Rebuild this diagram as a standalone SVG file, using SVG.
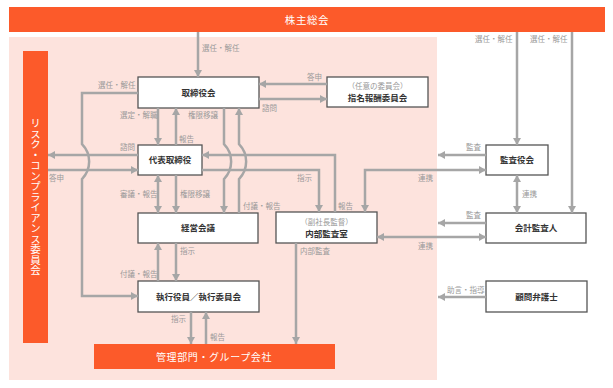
<svg xmlns="http://www.w3.org/2000/svg" width="613" height="388" viewBox="0 0 613 388">
<defs>
<style>
text{font-family:"Noto Sans CJK JP","Noto Sans CJK SC",sans-serif;}
.lbl{font-size:7.5px;fill:#9a9a9a;}
.bx{fill:#fff;stroke:#555;stroke-width:1.3;}
.bt{font-size:8.5px;font-weight:700;fill:#333;text-anchor:middle;}
.st{font-size:7.5px;fill:#999;text-anchor:middle;}
.bar{fill:#fc5a2a;}
.wt{fill:#fff;text-anchor:middle;}
.c{fill:none;stroke:#a6a6a6;stroke-width:2.5;marker-end:url(#ah);}
.b{marker-start:url(#ah);}
</style>
<marker id="ah" markerUnits="userSpaceOnUse" markerWidth="8" markerHeight="8" refX="7" refY="4" orient="auto-start-reverse">
<path d="M0,0 L7,4 L0,8 Z" fill="#a6a6a6"/>
</marker>
</defs>
<rect x="9" y="37" width="428" height="343" fill="#fde3dd"/>
<g id="shareholders"><rect class="bar" x="9" y="7" width="596" height="25"/><text class="wt" x="307" y="24" font-size="10.5" letter-spacing="0.6">株主総会</text></g>
<g id="risk"><rect class="bar" x="23" y="51" width="25" height="292"/><text class="wt" x="35.5" y="197" font-size="10.5" style="writing-mode:vertical-rl">リスク・コンプライアンス委員会</text></g>
<g id="mgmt"><rect class="bar" x="94" y="344" width="241" height="25"/><text class="wt" x="214" y="360.5" font-size="10" letter-spacing="0.6">管理部門・グループ会社</text></g>
<g id="board"><rect class="bx" x="138" y="77" width="121" height="31"/><text class="bt" x="198.5" y="95.5">取締役会</text></g>
<g id="nomination"><rect class="bx" x="327" y="77" width="101" height="30"/><text class="st" x="377.5" y="88.7">（任意の委員会）</text><text class="bt" x="377.5" y="101">指名報酬委員会</text></g>
<g id="ceo"><rect class="bx" x="138" y="145" width="64" height="30"/><text class="bt" x="170" y="163">代表取締役</text></g>
<g id="mgmtmeeting"><rect class="bx" x="138" y="213" width="120" height="30"/><text class="bt" x="198" y="231">経営会議</text></g>
<g id="audit"><rect class="bx" x="276" y="212" width="101" height="31"/><text class="st" x="326.5" y="224.7">（副社長監督）</text><text class="bt" x="326.5" y="237">内部監査室</text></g>
<g id="exec"><rect class="bx" x="138" y="281" width="121" height="31"/><text class="bt" x="198.5" y="299.5">執行役員／執行委員会</text></g>
<g id="auditboard"><rect class="bx" x="486" y="145" width="62" height="30"/><text class="bt" x="517" y="163">監査役会</text></g>
<g id="accountant"><rect class="bx" x="486" y="213" width="100" height="30"/><text class="bt" x="536" y="231">会計監査人</text></g>
<g id="lawyer"><rect class="bx" x="486" y="281" width="101" height="31"/><text class="bt" x="536.5" y="299.5">顧問弁護士</text></g>
<g id="connectors">
<path class="c" d="M198,32 V77"/>
<path class="c" d="M138,93 H82 V144 A25,25 0 0 1 82,179 V296 H138"/>
<path class="c" d="M138,155 H48"/>
<path class="c" d="M48,170 H138"/>
<path class="c" d="M158,108 V145"/>
<path class="c" d="M176,145 V108"/>
<path class="c" d="M224,108 V144 A25,25 0 0 1 224,179 V213"/>
<path class="c" d="M239,213 V179 A25,25 0 0 0 239,144 V108"/>
<path class="c" d="M335,212 V155 H202"/>
<path class="c" d="M202,170 H319 V212"/>
<path class="c" d="M327,84 H259"/>
<path class="c" d="M259,99 H327"/>
<path class="c" d="M486,155 H438"/>
<path class="c b" d="M486,170 H365 V212"/>
<path class="c b" d="M517,175 V213"/>
<path class="c" d="M486,223 H438"/>
<path class="c b" d="M377,237 H486"/>
<path class="c" d="M517,32 V145"/>
<path class="c" d="M572,32 V213"/>
<path class="c" d="M486,297 H438"/>
<path class="c b" d="M158,175 V213"/>
<path class="c" d="M176,175 V213"/>
<path class="c" d="M158,281 V243"/>
<path class="c" d="M176,243 V281"/>
<path class="c" d="M296,243 V344"/>
<path class="c" d="M191,312 V344"/>
<path class="c" d="M206,344 V312"/>
</g>
<g id="labels">
<text class="lbl" x="202" y="50.7">選任・解任</text>
<text class="lbl" x="475" y="41.7">選任・解任</text>
<text class="lbl" x="530" y="41.7">選任・解任</text>
<text class="lbl" x="98" y="87.7">選任・解任</text>
<text class="lbl" x="307" y="79.7">答申</text>
<text class="lbl" x="262" y="110.7">諮問</text>
<text class="lbl" x="120" y="117.7">選定・解職</text>
<text class="lbl" x="188" y="117.7">権限移譲</text>
<text class="lbl" x="179" y="141.7">報告</text>
<text class="lbl" x="120" y="149.7">諮問</text>
<text class="lbl" x="49" y="180.7">答申</text>
<text class="lbl" x="120" y="196.7">審議・報告</text>
<text class="lbl" x="180" y="196.7">権限移譲</text>
<text class="lbl" x="243" y="208.7">付議・報告</text>
<text class="lbl" x="297" y="180.7">指示</text>
<text class="lbl" x="338" y="208.7">報告</text>
<text class="lbl" x="466" y="149.7">監査</text>
<text class="lbl" x="418" y="180.7">連携</text>
<text class="lbl" x="522" y="196.7">連携</text>
<text class="lbl" x="466" y="217.7">監査</text>
<text class="lbl" x="418" y="248.7">連携</text>
<text class="lbl" x="300" y="253.7">内部監査</text>
<text class="lbl" x="180" y="253.7">指示</text>
<text class="lbl" x="120" y="276.7">付議・報告</text>
<text class="lbl" x="171" y="321.7">指示</text>
<text class="lbl" x="210" y="339.7">報告</text>
<text class="lbl" x="447" y="292.7">助言・指導</text>
</g>
</svg>
